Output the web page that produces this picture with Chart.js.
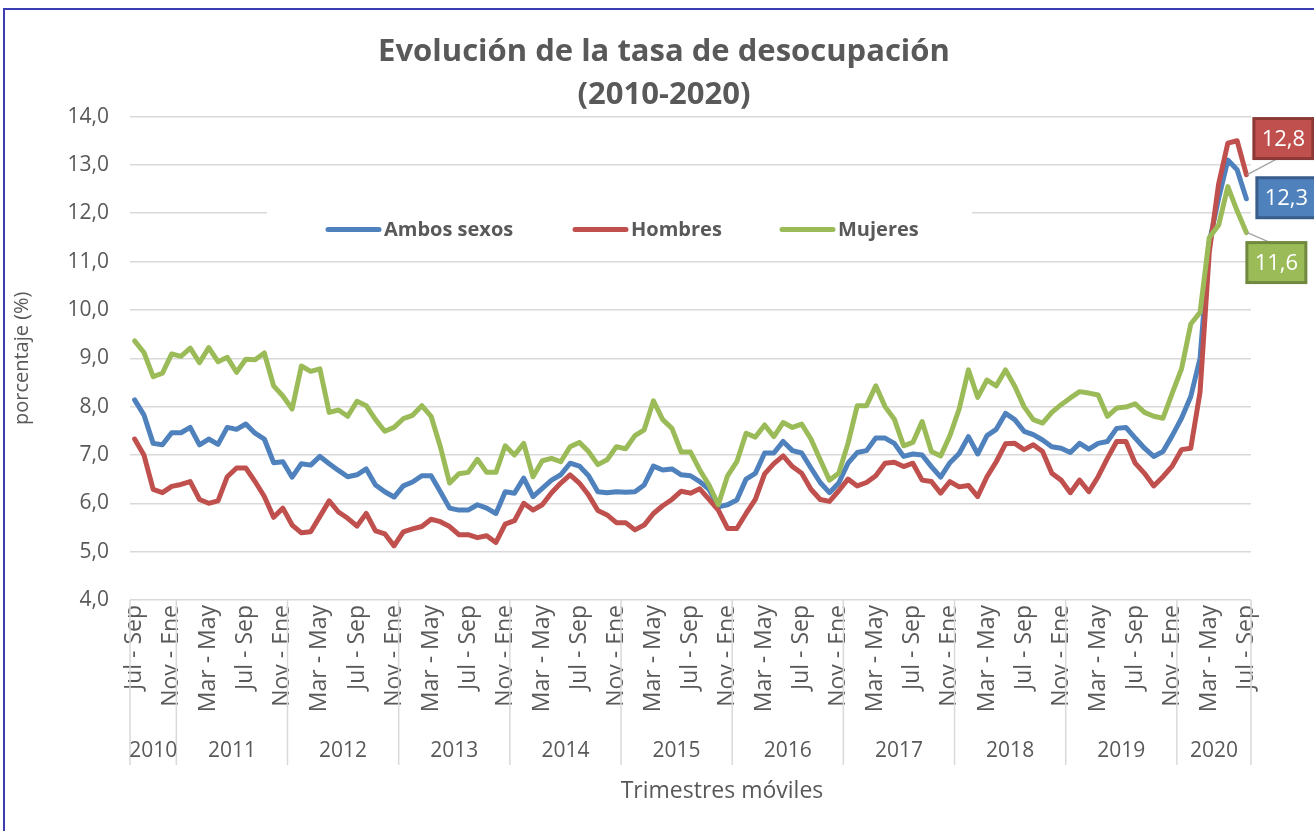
<!DOCTYPE html>
<html>
<head>
<meta charset="utf-8">
<script src="https://cdn.jsdelivr.net/npm/chart.js@4.4.1/dist/chart.umd.min.js"></script>
<style>
  html, body { margin: 0; padding: 0; background: #ffffff; }
  canvas { display: block; }
</style>
</head>
<body>
<canvas id="c" width="1314" height="831"></canvas>
<script>
// ---------- DATA ----------
const monthNames = ['Ene','Feb','Mar','Abr','May','Jun','Jul','Ago','Sep','Oct','Nov','Dic'];
// Rolling quarters from Jul-Sep 2010 to Jul-Sep 2020 (121 periods)
const categories = [];
for (let i = 0; i < 121; i++) {
  const s = (6 + i) % 12;
  categories.push(monthNames[s] + ' - ' + monthNames[(s + 2) % 12]);
}
const years = ['2010','2011','2012','2013','2014','2015','2016','2017','2018','2019','2020'];
const yearFirstIndex = [0, 5, 17, 29, 41, 53, 65, 77, 89, 101, 113];
const yTicks = [4,5,6,7,8,9,10,11,12,13,14];

const ambosSexos = [
  8.14,7.83,7.24,7.21,7.46,7.46,7.57,7.21,7.33,7.22,
  7.57,7.53,7.64,7.45,7.33,6.84,6.86,6.54,6.82,6.79,
  6.97,6.82,6.68,6.55,6.59,6.71,6.38,6.24,6.13,6.36,
  6.44,6.57,6.57,6.24,5.90,5.86,5.86,5.97,5.90,5.79,
  6.24,6.21,6.52,6.14,6.31,6.48,6.59,6.83,6.77,6.57,
  6.24,6.22,6.24,6.23,6.24,6.38,6.77,6.69,6.71,6.59,
  6.57,6.45,6.29,5.93,5.97,6.07,6.50,6.62,7.04,7.04,
  7.28,7.09,7.04,6.73,6.43,6.22,6.42,6.83,7.05,7.09,
  7.35,7.35,7.24,6.97,7.02,7.00,6.76,6.54,6.84,7.03,
  7.38,7.02,7.40,7.53,7.86,7.73,7.49,7.42,7.31,7.17,
  7.14,7.05,7.24,7.12,7.24,7.28,7.55,7.57,7.35,7.14,
  6.97,7.07,7.40,7.76,8.21,9.00,11.40,12.30,13.10,12.90,
  12.30
];
const hombres = [
  7.33,7.00,6.29,6.22,6.35,6.39,6.45,6.08,6.00,6.05,
  6.55,6.73,6.73,6.45,6.14,5.71,5.90,5.55,5.39,5.41,
  5.73,6.05,5.82,5.69,5.53,5.79,5.43,5.37,5.12,5.41,
  5.47,5.52,5.67,5.62,5.52,5.35,5.35,5.29,5.33,5.19,
  5.57,5.64,6.00,5.86,5.97,6.22,6.42,6.59,6.42,6.17,
  5.85,5.76,5.60,5.60,5.45,5.55,5.79,5.95,6.08,6.25,
  6.21,6.30,6.08,5.86,5.48,5.48,5.79,6.08,6.61,6.82,
  6.98,6.76,6.62,6.29,6.08,6.04,6.26,6.50,6.36,6.43,
  6.57,6.83,6.85,6.76,6.83,6.48,6.45,6.21,6.45,6.34,
  6.37,6.14,6.55,6.86,7.23,7.24,7.11,7.21,7.07,6.62,
  6.48,6.22,6.48,6.24,6.55,6.93,7.28,7.28,6.83,6.62,
  6.36,6.55,6.77,7.11,7.14,8.30,11.20,12.60,13.45,13.50,
  12.80
];
const mujeres = [
  9.36,9.12,8.62,8.69,9.09,9.04,9.21,8.91,9.22,8.93,
  9.02,8.71,8.98,8.97,9.11,8.43,8.22,7.95,8.84,8.73,
  8.78,7.88,7.93,7.80,8.11,8.02,7.73,7.49,7.57,7.75,
  7.82,8.02,7.80,7.17,6.42,6.61,6.64,6.91,6.64,6.64,
  7.19,7.00,7.24,6.55,6.88,6.93,6.86,7.17,7.26,7.07,
  6.80,6.90,7.17,7.13,7.40,7.52,8.12,7.73,7.55,7.06,
  7.06,6.69,6.38,5.97,6.57,6.86,7.45,7.37,7.62,7.38,
  7.67,7.57,7.64,7.33,6.90,6.48,6.62,7.24,8.02,8.02,
  8.43,8.00,7.74,7.19,7.26,7.69,7.07,6.98,7.40,7.95,
  8.76,8.19,8.55,8.43,8.76,8.42,8.00,7.73,7.66,7.88,
  8.04,8.18,8.31,8.28,8.24,7.80,7.97,7.99,8.06,7.88,
  7.80,7.76,8.28,8.78,9.71,9.95,11.50,11.75,12.55,12.05,
  11.60
];

// ---------- STYLE ----------
const FONT = "'Open Sans', 'DejaVu Sans', sans-serif";
const TXT = '#595959';
const GRID = '#d9d9d9';
const C_BLUE = '#4f81bd', C_RED = '#c0504d', C_GREEN = '#9bbb59';
const X_TITLE = 'Trimestres móviles';

const fmt = v => Number(v).toFixed(1).replace('.', ',');

// Outer frame
const framePlugin = {
  id: 'frame',
  afterDraw(chart) {
    const ctx = chart.ctx;
    ctx.save();
    ctx.strokeStyle = '#3c3cb4';
    ctx.lineWidth = 2;
    ctx.beginPath();
    ctx.moveTo(4, chart.height);
    ctx.lineTo(4, 9);
    ctx.lineTo(chart.width, 9);
    ctx.stroke();
    ctx.restore();
  }
};

// Legend inside plot area
const legendItems = [
  { label: 'Ambos sexos', color: C_BLUE, x: 326 },
  { label: 'Hombres', color: C_RED, x: 573 },
  { label: 'Mujeres', color: C_GREEN, x: 780 }
];
const insideLegend = {
  id: 'insideLegend',
  beforeDatasetsDraw(chart) {
    const ctx = chart.ctx;
    const ys = chart.scales.y;
    const yc = (ys.getPixelForValue(12) + ys.getPixelForValue(11)) / 2 - 8;
    ctx.save();
    ctx.fillStyle = '#ffffff';
    ctx.fillRect(267, yc - 26, 705, 50);
    ctx.lineCap = 'round';
    ctx.lineWidth = 5;
    ctx.font = 'bold 20px ' + FONT;
    ctx.textBaseline = 'middle';
    ctx.textAlign = 'left';
    legendItems.forEach(it => {
      ctx.strokeStyle = it.color;
      ctx.beginPath();
      ctx.moveTo(it.x + 2, yc);
      ctx.lineTo(it.x + 53, yc);
      ctx.stroke();
      ctx.fillStyle = TXT;
      ctx.fillText(it.label, it.x + 58, yc + 1);
    });
    ctx.restore();
  }
};

// Multi-level category axis: year separators, year labels and axis title
const yearAxis = {
  id: 'yearAxis',
  afterDraw(chart) {
    const ctx = chart.ctx;
    const xs = chart.scales.x;
    const top = chart.chartArea.bottom;
    const half = (xs.getPixelForValue(1) - xs.getPixelForValue(0)) / 2;
    const bounds = yearFirstIndex.map(i => xs.getPixelForValue(i) - half);
    bounds.push(xs.getPixelForValue(categories.length - 1) + half);
    ctx.save();
    ctx.strokeStyle = GRID;
    ctx.lineWidth = 1.5;
    bounds.forEach(b => {
      ctx.beginPath();
      ctx.moveTo(b, top);
      ctx.lineTo(b, top + 165);
      ctx.stroke();
    });
    ctx.fillStyle = TXT;
    ctx.font = '21px ' + FONT;
    ctx.textAlign = 'center';
    ctx.textBaseline = 'middle';
    years.forEach((y, k) => {
      ctx.fillText(y, (bounds[k] + bounds[k + 1]) / 2, top + 151);
    });
    ctx.font = '23px ' + FONT;
    ctx.fillText(X_TITLE, 722, top + 191);
    ctx.restore();
  }
};

// End-of-series data labels
const endLabels = [
  { ds: 1, fill: C_RED, stroke: '#8c3836', dx: 37, dy: -36, leader: true },
  { ds: 0, fill: C_BLUE, stroke: '#385d8a', dx: 40, dy: -1, leader: false },
  { ds: 2, fill: C_GREEN, stroke: '#71893f', dx: 30, dy: 30, leader: true }
];
const endLabelPlugin = {
  id: 'endLabels',
  afterDatasetsDraw(chart) {
    const ctx = chart.ctx;
    ctx.save();
    endLabels.forEach(l => {
      const meta = chart.getDatasetMeta(l.ds);
      const pt = meta.data[meta.data.length - 1];
      const vals = chart.data.datasets[l.ds].data;
      const cx = pt.x + l.dx, cy = pt.y + l.dy;
      const w = 59, h = 40;
      if (l.leader) {
        ctx.strokeStyle = '#a6a6a6';
        ctx.lineWidth = 1.5;
        ctx.beginPath();
        ctx.moveTo(pt.x + 1, pt.y);
        ctx.lineTo(cx - 6, l.dy < 0 ? cy + h / 2 : cy - h / 2);
        ctx.stroke();
      }
      ctx.fillStyle = l.fill;
      ctx.fillRect(cx - w / 2, cy - h / 2, w, h);
      ctx.strokeStyle = l.stroke;
      ctx.lineWidth = 3;
      ctx.strokeRect(cx - w / 2, cy - h / 2, w, h);
      ctx.fillStyle = '#ffffff';
      ctx.font = '22px ' + FONT;
      ctx.textAlign = 'center';
      ctx.textBaseline = 'middle';
      ctx.fillText(fmt(vals[vals.length - 1]), cx, cy + 1);
    });
    ctx.restore();
  }
};

new Chart(document.getElementById('c'), {
  type: 'line',
  data: {
    labels: categories,
    datasets: [
      { label: 'Ambos sexos', data: ambosSexos, borderColor: C_BLUE, order: 2 },
      { label: 'Hombres', data: hombres, borderColor: C_RED, order: 1 },
      { label: 'Mujeres', data: mujeres, borderColor: C_GREEN, order: 0 }
    ]
  },
  options: {
    responsive: false,
    devicePixelRatio: 1,
    animation: false,
    layout: { padding: { left: 14, right: 0, top: 0, bottom: 0 } },
    elements: {
      line: { borderWidth: 5, tension: 0, borderJoinStyle: 'round', borderCapStyle: 'round', fill: false },
      point: { radius: 0, hoverRadius: 0 }
    },
    plugins: {
      legend: { display: false },
      tooltip: { enabled: false },
      title: {
        display: true,
        text: ['Evolución de la tasa de desocupación', '(2010-2020)'],
        color: TXT,
        font: { family: FONT, size: 31, weight: 'bold', lineHeight: 1.38 },
        padding: { top: 31, bottom: 0 }
      }
    },
    scales: {
      x: {
        type: 'category',
        offset: true,
        grid: { display: false, drawTicks: false },
        border: { display: false },
        ticks: {
          autoSkip: false,
          minRotation: 90,
          maxRotation: 90,
          padding: 5,
          color: TXT,
          font: { family: FONT, size: 23 },
          callback: function (v, i) { return i % 4 === 0 ? this.getLabelForValue(v) : ''; }
        },
        afterFit: s => { s.height = 231; }
      },
      y: {
        type: 'linear',
        min: 4,
        max: 14,
        afterBuildTicks: s => { s.ticks = yTicks.map(v => ({ value: v })); },
        ticks: { color: TXT, font: { family: FONT, size: 21 }, padding: 21, callback: v => fmt(v) },
        grid: { color: GRID, lineWidth: 1.5, drawTicks: false },
        border: { display: false },
        title: {
          display: true,
          text: 'porcentaje (%)',
          color: TXT,
          font: { family: FONT, size: 20, lineHeight: 1 },
          padding: { top: -2, bottom: 0 }
        },
        afterFit: s => { s.width = 116; }
      },
      yr: {
        type: 'linear',
        position: 'right',
        display: true,
        grid: { display: false, drawTicks: false },
        border: { display: false },
        ticks: { display: false },
        afterFit: s => { s.width = 63; }
      }
    }
  },
  plugins: [insideLegend, yearAxis, endLabelPlugin, framePlugin]
});
</script>
</body>
</html>
